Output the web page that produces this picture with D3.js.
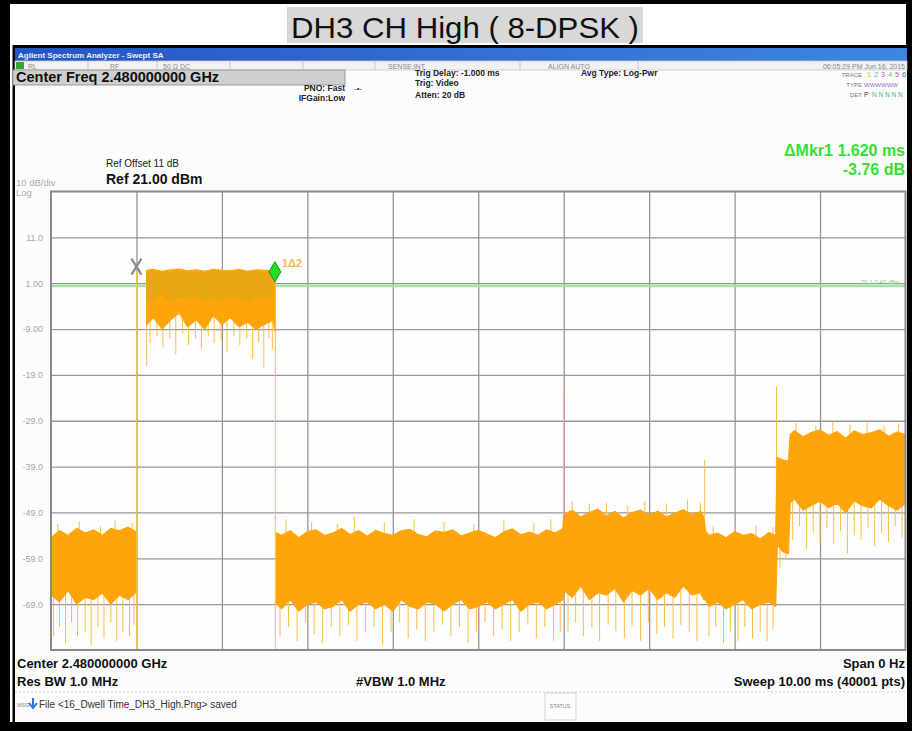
<!DOCTYPE html>
<html>

<head>
    <meta charset="utf-8">
    <title>DH3 CH High ( 8-DPSK )</title>
    <style>
        body {
            margin: 0;
            background: #000;
        }

        svg {
            display: block;
            font-family: "Liberation Sans", Arial, sans-serif;
        }

        .grid line {
            stroke: #969696;
            stroke-width: 1.3;
        }

        .grid path {
            display: none;
        }

        .ylab text {
            fill: #a8a8a8;
            font-size: 9px;
        }

        .bold {
            font-weight: bold;
        }
    </style>

    <script src="https://cdn.jsdelivr.net/npm/d3@7"></script>
</head>

<body>
    <script>
        // ---- data (time in ms, level in dBm) ----
        var title = "DH3 CH High ( 8-DPSK )";

        // y grid lines and their labels
        var yTickValues = [11, 1, -9, -19, -29, -39, -49, -59, -69];
        var yTickLabels = ["11.0", "1.00", "-9.00", "-19.0", "-29.0", "-39.0", "-49.0", "-59.0", "-69.0"];
        // x grid lines (ms)
        var xGridValues = [1, 2, 3, 4, 5, 6, 7, 8, 9];

        // envelope of the orange trace: time, upper edge, lower edge of the dense band
        // null = trace below the bottom of the screen
        var traceTime = [
            0, 0.1, 0.2, 0.3, 0.4, 0.5, 0.6, 0.7, 0.8, 0.9, 0.99,
            1.05,
            1.12, 1.2, 1.3, 1.4, 1.5, 1.6, 1.7, 1.8, 1.9, 2.0, 2.1, 2.2, 2.3, 2.4, 2.5, 2.6, 2.62,
            2.63,
            2.64, 2.7, 2.8, 2.9, 3.0, 3.1, 3.2, 3.3, 3.4, 3.5,
            3.6, 3.7, 3.8, 3.9, 4.0, 4.1, 4.2, 4.3, 4.4, 4.5,
            4.6, 4.7, 4.8, 4.9, 5.0, 5.1, 5.2, 5.3, 5.4, 5.5,
            5.6, 5.7, 5.8, 5.9, 5.99,
            6.0, 6.1, 6.2, 6.3, 6.4, 6.5, 6.6, 6.7, 6.8, 6.9, 7.0, 7.1, 7.2, 7.3, 7.4, 7.5, 7.6, 7.64,
            7.66, 7.7, 7.8, 7.9, 8.0, 8.1, 8.2, 8.3, 8.4, 8.48,
            8.5, 8.56, 8.63,
            8.65, 8.7, 8.8, 8.9, 9.0, 9.1, 9.2, 9.3, 9.4, 9.5, 9.6, 9.7, 9.8, 9.9, 10.0
        ];
        var traceTop = [
            -54.5, -53, -54, -52.5, -53.5, -52.8, -54, -52.5, -53, -52.2, -53.2,
            null,
            3.8, 4.0, 3.6, 3.9, 4.1, 3.7, 3.9, 3.6, 4.0, 3.8, 3.7, 4.0, 3.6, 3.9, 3.8, 3.7, 4.1,
            null,
            -53.5, -54, -53, -54.5, -53.2, -52.8, -54, -53.5, -52.5, -53.8,
            -53, -54.2, -52.9, -53.6, -54, -53, -52.7, -53.8, -54.3, -53,
            -53.4, -52.8, -54.1, -53.5, -52.9, -53.7, -54.5, -53.2, -52.6, -53.9,
            -53.3, -54, -52.8, -53.5, -52.5,
            -49.5, -48.5, -50, -49, -48.3, -49.8, -48.8, -50.2, -49, -48.5, -49.6, -48.7, -50, -49.2, -48.4, -49.5, -48.8, -50,
            -53, -54, -53.5, -54.5, -53.2, -54, -53.6, -54.8, -53.4, -54,
            -37, -37.5, -37.8,
            -32, -31.2, -32.5, -31.5, -31, -32.2, -31.4, -32.8, -31.2, -32, -31.6, -31, -32.4, -31.5, -32
        ];
        var traceBot = [
            -67, -68.5, -66, -69, -67.5, -68, -66.5, -69, -67, -68, -66.5,
            null,
            -8, -6.5, -9, -7, -5.5, -8.5, -7, -9, -6, -8, -6.5, -8.5, -7.5, -9, -8, -7, -9.5,
            null,
            -69, -70, -68, -70.5, -69, -68.5, -70, -69.5, -68, -70.5,
            -69, -68.5, -70, -69, -70.5, -68, -69.5, -70, -68.5, -69,
            -70.5, -69, -68, -70, -69.5, -68.5, -70, -69, -68, -70.5,
            -69, -68.5, -70, -69, -68,
            -66, -67.5, -65, -68, -66.5, -67, -65.5, -68.5, -66, -67, -65.5, -68, -66.5, -67.5, -65, -67, -66.5, -68,
            -68, -69.5, -68.5, -70, -69, -68, -70, -69, -68.5, -69.5,
            -56, -57.5, -58,
            -47, -46, -48.5, -47.5, -46.5, -48, -47, -49, -46.5, -47.5, -48, -46, -47.5, -48.5, -47
        ];

        // darker, denser core at the top of the burst
        var coreTime = [1.12, 1.2, 1.3, 1.4, 1.5, 1.6, 1.7, 1.8, 1.9, 2.0, 2.1, 2.2, 2.3, 2.4, 2.5, 2.6, 2.62];
        var coreBot = [-2.5, -3, -1.5, -3.5, -2, -2.8, -1.8, -3.2, -2.4, -3, -2, -2.6, -3.4, -2.2, -2.9, -1.9, -3];

        // thin single spikes sticking out of the band (time, level they reach)
        var spikeTime = [
            0.03, 0.1, 0.17, 0.24, 0.31, 0.4, 0.47, 0.55, 0.62, 0.7, 0.77, 0.84, 0.92, 0.97,
            0.08, 0.33, 0.58, 0.75, 0.95,
            1.16, 1.24, 1.31, 1.39, 1.46, 1.54, 1.61, 1.69, 1.76, 1.84, 1.91, 1.99, 2.06, 2.14, 2.21, 2.29, 2.36, 2.43, 2.49, 2.55, 2.59,
            2.68, 2.78, 2.88, 2.98, 3.08, 3.18, 3.28, 3.38, 3.48, 3.58,
            3.68, 3.78, 3.88, 3.98, 4.08, 4.18, 4.28, 4.38, 4.48, 4.58,
            4.68, 4.78, 4.88, 4.98, 5.08, 5.18, 5.28, 5.38, 5.48, 5.58,
            5.68, 5.78, 5.88, 5.96,
            2.75, 3.05, 3.35, 3.55, 3.9, 4.25, 4.6, 4.95, 5.3, 5.65, 5.85,
            6.05, 6.14, 6.23, 6.33, 6.42, 6.52, 6.61, 6.71, 6.8, 6.9, 6.99, 7.09, 7.18, 7.28, 7.37, 7.47, 7.56,
            6.1, 6.3, 6.5, 6.75, 6.95, 7.2, 7.45, 7.6,
            7.7, 7.78, 7.87, 7.95, 8.04, 8.12, 8.21, 8.3, 8.38, 8.45,
            7.75, 8.0, 8.25, 8.45,
            8.53, 8.6,
            8.68, 8.76, 8.84, 8.92, 9.0, 9.08, 9.16, 9.24, 9.32, 9.4, 9.48, 9.56, 9.64, 9.72, 9.8, 9.88, 9.96,
            8.72, 8.95, 9.15, 9.35, 9.55, 9.75, 9.92
        ];
        var spikeLevel = [
            -76, -74, -77.5, -73, -76, -75, -78, -74, -76.5, -73, -77, -75, -76, -73.5,
            -51.5, -51, -52, -50.8, -51.2,
            -12, -10.5, -13, -11, -14.5, -10, -12.5, -11, -13.5, -10.5, -12, -11.5, -14, -10.5, -12.5, -11, -15.5, -12, -17.5, -11, -13.5,
            -76, -74, -77, -73, -75.5, -77.5, -74, -76, -73.5, -77,
            -75, -74, -78, -75, -73, -76.5, -74.5, -77, -75, -73.5,
            -76, -74, -77.5, -75, -73, -76, -74.5, -77, -75, -73.5,
            -76.5, -74, -77, -75,
            -50.5, -51, -51.5, -50, -51.2, -50.5, -51, -51.5, -50.8, -51.2, -50.5,
            -75, -73, -76, -74, -77, -73.5, -75, -76.5, -74, -77, -73, -75.5, -74, -76.5, -73.5, -75, -77,
            -46.5, -47, -46.8, -47.5, -46.5, -47, -46.2, -46.8,
            -76, -74, -77.5, -75, -77, -74, -76.5, -75, -77, -74.5,
            -52, -52.5, -51.8, -52.2,
            -61, -59,
            -55, -52, -57, -53.5, -55.5, -52.5, -56, -53, -58, -54, -55, -52.5, -56.5, -53.5, -55.5, -52, -54.5,
            -29.5, -30, -29.2, -29.8, -29.5, -30, -29.6
        ];

        // vertical edges / isolated full-height spikes (time, from, to)
        var edgeTime = [1.0, 1.12, 2.625, 6.0, 7.65, 8.49];
        var edgeLow = [-90, -17, -79, -52, -50, -52];
        var edgeHigh = [4.6, 3.8, 3.5, -22, -37.5, -21.5];

        // markers: reference X and delta diamond
        var markerTime = [1.0, 2.62];
        var markerLevel = [4.6, 3.5];
        var displayLine = 0.4;

        // ---- layout ----
        var W = 912,
            H = 731;
        var plot = {
            left: 51,
            right: 905.5,
            top: 191.5,
            bottom: 650
        };
        var plotW = plot.right - plot.left,
            plotH = plot.bottom - plot.top;

        var x = d3.scaleLinear().domain([0, 10]).range([plot.left, plot.right]);
        var y = d3.scaleLinear().domain([-79, 21]).range([plot.bottom, plot.top]);

        var svg = d3.select("body").append("svg")
            .attr("width", W)
            .attr("height", H);

        // black frame
        svg.append("rect").attr("width", W).attr("height", H).attr("fill", "#000");

        // title strip
        svg.append("rect").attr("x", 10).attr("y", 4).attr("width", 896).attr("height", 41).attr("fill", "#fff");
        svg.append("rect").attr("x", 287).attr("y", 7).attr("width", 356).attr("height", 36).attr("fill", "#d8d8d8");
        svg.append("text")
            .attr("x", 291).attr("y", 38)
            .attr("font-size", 29)
            .attr("textLength", 348)
            .attr("lengthAdjust", "spacingAndGlyphs")
            .attr("fill", "#111")
            .text(title);

        // white line on the left and the analyzer screen
        svg.append("rect").attr("x", 10).attr("y", 45).attr("width", 2.5).attr("height", 677).attr("fill", "#fff");
        svg.append("rect").attr("x", 15).attr("y", 48).attr("width", 892).attr("height", 674).attr("fill", "#fcfcfc");

        // window title bar
        var grad = svg.append("defs").append("linearGradient").attr("id", "bar");
        grad.append("stop").attr("offset", "0%").attr("stop-color", "#2456c4");
        grad.append("stop").attr("offset", "100%").attr("stop-color", "#3f86e2");
        svg.append("rect").attr("x", 15).attr("y", 48).attr("width", 892).attr("height", 13).attr("fill", "url(#bar)");
        svg.append("text").attr("x", 18).attr("y", 58).attr("font-size", 8).attr("fill", "#e8f0ff")
            .attr("class", "bold").text("Agilent Spectrum Analyzer - Swept SA");

        // status row
        svg.append("rect").attr("x", 15).attr("y", 61).attr("width", 892).attr("height", 9).attr("fill", "#f2f2f2")
            .attr("stroke", "#c8c8c8").attr("stroke-width", 0.8);
        var sepX = [88, 157, 230, 303, 375, 520, 638];
        svg.selectAll(".sep").data(sepX).enter().append("line")
            .attr("x1", function(d) { return d; }).attr("x2", function(d) { return d; })
            .attr("y1", 61).attr("y2", 70).attr("stroke", "#c8c8c8");
        svg.append("rect").attr("x", 16).attr("y", 62).attr("width", 8).attr("height", 7).attr("fill", "#2fa82f");
        var statusText = [
            [28, "RL", "start"], [110, "RF", "start"], [163, "50 Ω   DC", "start"],
            [388, "SENSE:INT", "start"], [548, "ALIGN AUTO", "start"], [905, "06:05:29 PM Jun 16, 2015", "end"]
        ];
        svg.selectAll(".st").data(statusText).enter().append("text")
            .attr("x", function(d) { return d[0]; }).attr("y", 68.5)
            .attr("text-anchor", function(d) { return d[2]; })
            .attr("font-size", 7).attr("fill", "#8a8a8a")
            .text(function(d) { return d[1]; });

        // center freq box
        svg.append("rect").attr("x", 13).attr("y", 70).attr("width", 332).attr("height", 15)
            .attr("fill", "#cfcfcf").attr("stroke", "#999");
        svg.append("text").attr("x", 16).attr("y", 82).attr("font-size", 14.5).attr("class", "bold")
            .attr("fill", "#111").text("Center Freq 2.480000000 GHz");

        var smallBold = [
            [345, 91, "PNO: Fast", "end"], [345, 101, "IFGain:Low", "end"],
            [415, 76, "Trig Delay: -1.000 ms", "start"], [415, 86, "Trig: Video", "start"],
            [415, 98, "Atten: 20 dB", "start"], [581, 76, "Avg Type: Log-Pwr", "start"]
        ];
        svg.selectAll(".sb").data(smallBold).enter().append("text")
            .attr("x", function(d) { return d[0]; }).attr("y", function(d) { return d[1]; })
            .attr("text-anchor", function(d) { return d[3]; })
            .attr("font-size", 8.5).attr("class", "bold").attr("fill", "#222")
            .text(function(d) { return d[2]; });
        svg.append("text").attr("x", 354).attr("y", 91).attr("font-size", 8).attr("fill", "#333").text("-•-");

        // trace info block
        var traceInfo = [[77, "TRACE"], [87, "TYPE"], [97, "DET"]];
        svg.selectAll(".ti").data(traceInfo).enter().append("text")
            .attr("x", 862).attr("y", function(d) { return d[0]; })
            .attr("text-anchor", "end").attr("font-size", 6).attr("fill", "#777")
            .text(function(d) { return d[1]; });
        var traceNums = ["1", "2", "3", "4", "5", "6"];
        var traceCols = ["#d8c400", "#38c8e0", "#e040e0", "#58d070", "#d050c0", "#6060e0"];
        svg.selectAll(".tn").data(traceNums).enter().append("text")
            .attr("x", function(d, i) { return 867 + i * 7; }).attr("y", 77)
            .attr("font-size", 7.5).attr("fill", function(d, i) { return traceCols[i]; })
            .text(function(d) { return d; });
        svg.append("text").attr("x", 864).attr("y", 87).attr("font-size", 6).attr("fill", "#8a70c0").text("WWWWWW");
        svg.append("text").attr("x", 864).attr("y", 97).attr("font-size", 6.5).attr("fill", "#333").text("P");
        svg.append("text").attr("x", 872).attr("y", 97).attr("font-size", 6.5).attr("fill", "#40c060").text("N N N N N");

        // delta marker readout
        svg.append("text").attr("x", 905).attr("y", 156).attr("text-anchor", "end")
            .attr("font-size", 16).attr("class", "bold").attr("fill", "#35e035").text("ΔMkr1 1.620 ms");
        svg.append("text").attr("x", 905).attr("y", 175).attr("text-anchor", "end")
            .attr("font-size", 16).attr("class", "bold").attr("fill", "#35e035").text("-3.76 dB");

        // reference level
        svg.append("text").attr("x", 106).attr("y", 167).attr("font-size", 10).attr("fill", "#222").text("Ref Offset 11 dB");
        svg.append("text").attr("x", 106).attr("y", 184).attr("font-size", 14).attr("class", "bold")
            .attr("fill", "#111").text("Ref 21.00 dBm");
        svg.append("text").attr("x", 16).attr("y", 186).attr("font-size", 9.5).attr("fill", "#aaa").text("10 dB/div");
        svg.append("text").attr("x", 16).attr("y", 196).attr("font-size", 9.5).attr("fill", "#aaa").text("Log");

        // ---- plot ----
        svg.append("rect")
            .attr("x", plot.left).attr("y", plot.top)
            .attr("width", plotW).attr("height", plotH)
            .attr("fill", "#fefefe");

        // add the grid with the y labels
        svg.append("g")
            .attr("class", "grid ylab")
            .attr("transform", "translate(" + plot.left + ",0)")
            .call(d3.axisLeft(y)
                .tickValues(yTickValues)
                .tickSize(-plotW)
                .tickPadding(8)
                .tickFormat(function(d, i) { return yTickLabels[i]; }));
        svg.append("g")
            .attr("class", "grid")
            .attr("transform", "translate(0," + plot.bottom + ")")
            .call(d3.axisBottom(x)
                .tickValues(xGridValues)
                .tickSize(-plotH)
                .tickFormat(""));

        // display line
        svg.append("line")
            .attr("x1", plot.left).attr("x2", plot.right)
            .attr("y1", y(displayLine)).attr("y2", y(displayLine))
            .attr("stroke", "#a3e3a3").attr("stroke-width", 2.5);
        svg.append("text").attr("x", 900).attr("y", y(displayLine) - 2).attr("text-anchor", "end")
            .attr("font-size", 6).attr("fill", "#7fd07f").text("DL1 0.40 dBm");

        svg.append("clipPath").attr("id", "clip").append("rect")
            .attr("x", plot.left).attr("y", plot.top)
            .attr("width", plotW).attr("height", plotH);
        var trace = svg.append("g").attr("clip-path", "url(#clip)");

        var env = traceTime.map(function(t, i) {
            return { t: t, top: traceTop[i], bot: traceBot[i] };
        });

        var area = d3.area()
            .defined(function(d) { return d.top !== null && d.top !== undefined; })
            .x(function(d) { return x(d.t); })
            .y0(function(d) { return y(d.bot); })
            .y1(function(d) { return y(d.top); });

        var bis = d3.bisector(function(d) { return d.t; }).left;
        function bandMid(t) {
            var i = Math.min(bis(env, t), env.length - 1);
            var d = env[i];
            if (d.top === null) d = env[i - 1];
            return (d.top + d.bot) / 2;
        }
        var spikes = spikeTime.map(function(t, i) {
            return { t: t, lo: spikeLevel[i], hi: bandMid(t) };
        });
        var edges = edgeTime.map(function(t, i) {
            return { t: t, lo: edgeLow[i], hi: edgeHigh[i] };
        });

        trace.selectAll(".spike").data(spikes.concat(edges)).enter().append("line")
            .attr("x1", function(d) { return x(d.t); })
            .attr("x2", function(d) { return x(d.t); })
            .attr("y1", function(d) { return y(d.lo); })
            .attr("y2", function(d) { return y(d.hi); })
            .attr("stroke", "#ffbb44")
            .attr("stroke-width", 1);

        trace.append("path")
            .datum(env)
            .attr("d", area)
            .attr("fill", "#ffa50a")
            .attr("stroke", "#ffa50a")
            .attr("stroke-width", 1.2);

        var core = coreTime.map(function(t, i) {
            var j = bis(env, t);
            return { t: t, top: env[j].top - 0.4, bot: coreBot[i] };
        });
        trace.append("path")
            .datum(core)
            .attr("d", area)
            .attr("fill", "#e8a612")
            .attr("opacity", 0.9);

        // plot border
        svg.append("rect")
            .attr("x", plot.left).attr("y", plot.top)
            .attr("width", plotW).attr("height", plotH)
            .attr("fill", "none").attr("stroke", "#8a8a8a").attr("stroke-width", 2);

        // markers
        var mx = x(markerTime[0]),
            my = y(markerLevel[0]);
        svg.append("path")
            .attr("d", "M" + (mx - 5) + "," + (my - 8) + "L" + (mx + 5) + "," + (my + 8) +
                "M" + (mx + 5) + "," + (my - 8) + "L" + (mx - 5) + "," + (my + 8))
            .attr("stroke", "#8a8a9a").attr("stroke-width", 2.2);
        svg.append("text").attr("x", mx).attr("y", my + 3).attr("text-anchor", "middle")
            .attr("font-size", 7).attr("fill", "#8a8a9a").text("2");
        var dx = x(markerTime[1]),
            dy = y(markerLevel[1]);
        svg.append("path")
            .attr("d", "M" + dx + "," + (dy - 10) + "L" + (dx + 6) + "," + dy + "L" + dx + "," + (dy + 10) +
                "L" + (dx - 6) + "," + dy + "Z")
            .attr("fill", "#22dd22").attr("stroke", "#119911").attr("stroke-width", 1);
        svg.append("text").attr("x", dx + 7).attr("y", dy - 5).attr("font-size", 11).attr("class", "bold")
            .attr("fill", "#f7b860").text("1Δ2");

        // ---- bottom annotation ----
        svg.append("text").attr("x", 17).attr("y", 668).attr("font-size", 13).attr("class", "bold")
            .attr("fill", "#111").text("Center 2.480000000 GHz");
        svg.append("text").attr("x", 17).attr("y", 686).attr("font-size", 13).attr("class", "bold")
            .attr("fill", "#111").text("Res BW 1.0 MHz");
        svg.append("text").attr("x", 356).attr("y", 686).attr("font-size", 13).attr("class", "bold")
            .attr("fill", "#111").text("#VBW 1.0 MHz");
        svg.append("text").attr("x", 905).attr("y", 668).attr("text-anchor", "end").attr("font-size", 13)
            .attr("class", "bold").attr("fill", "#111").text("Span 0 Hz");
        svg.append("text").attr("x", 905).attr("y", 686).attr("text-anchor", "end").attr("font-size", 13)
            .attr("class", "bold").attr("fill", "#111").text("Sweep  10.00 ms (40001 pts)");

        // message bar
        svg.append("line").attr("x1", 15).attr("x2", 907).attr("y1", 692).attr("y2", 692)
            .attr("stroke", "#d0d0d0").attr("stroke-dasharray", "2,2");
        svg.append("text").attr("x", 17).attr("y", 707).attr("font-size", 5.5).attr("fill", "#888").text("MSG");
        svg.append("path").attr("d", "M33,698 L33,706 M29,703 L33,708 L37,703")
            .attr("stroke", "#3070d0").attr("stroke-width", 2).attr("fill", "none");
        svg.append("text").attr("x", 39).attr("y", 708).attr("font-size", 10).attr("fill", "#333")
            .text("File <16_Dwell Time_DH3_High.Png> saved");
        svg.append("rect").attr("x", 545).attr("y", 693).attr("width", 31).attr("height", 27)
            .attr("fill", "none").attr("stroke", "#d4d4d4");
        svg.append("text").attr("x", 560).attr("y", 708).attr("text-anchor", "middle").attr("font-size", 5.5)
            .attr("fill", "#888").text("STATUS");
    </script>
</body>

</html>
